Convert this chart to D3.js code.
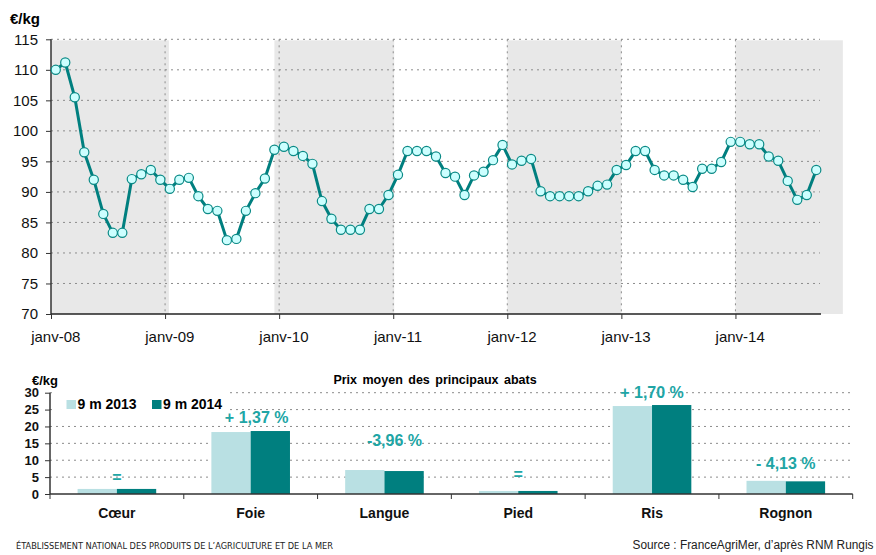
<!DOCTYPE html>
<html><head><meta charset="utf-8">
<script src="https://cdn.jsdelivr.net/npm/d3@7"></script>
<style>body{margin:0;background:#fff}svg{display:block;font-family:"Liberation Sans",Arial,sans-serif}</style>
</head><body>
<svg id="c" width="876" height="555"></svg>
<script>
// ---------- DATA ----------
const monthlyPrices = [110.0,111.2,105.5,96.5,92.0,86.4,83.3,83.3,92.1,92.9,93.6,92.0,
 90.5,92.0,92.3,89.3,87.2,86.9,82.1,82.3,86.9,89.8,92.2,96.9,
 97.4,96.7,95.9,94.6,88.5,85.6,83.8,83.8,83.8,87.2,87.2,89.5,
 92.8,96.7,96.7,96.7,95.8,93.1,92.5,89.5,92.7,93.3,95.2,97.7,
 94.5,95.1,95.4,90.1,89.3,89.3,89.3,89.3,90.1,91.0,91.2,93.6,
 94.4,96.7,96.7,93.6,92.7,92.7,92.0,90.8,93.8,93.8,94.9,98.2,
 98.2,97.8,97.8,95.8,95.1,91.8,88.7,89.5,93.6];
const yearLabels = ["janv-08","janv-09","janv-10","janv-11","janv-12","janv-13","janv-14"];
const shadedMonths = [[0,12.4],[23.5,36.1],[48,60],[72,83.3]];
const topTicks = [70,75,80,85,90,95,100,105,110,115];

const categories = ["Cœur","Foie","Langue","Pied","Ris","Rognon"];
const series2013 = [1.5,18.35,7.1,0.9,26.05,3.9];
const series2014 = [1.5,18.65,6.8,0.9,26.35,3.75];
const changeLabels = ["=","+ 1,37 %","-3,96 %","=","+ 1,70 %","- 4,13 %"];
const changeLabelAt = [5.0,22.8,15.8,5.9,30.0,9.1];
const seriesNames = ["9 m 2013","9 m 2014"];
const bottomTicks = [0,5,10,15,20,25,30];

// ---------- DRAW ----------
const svg = d3.select("#c");
const teal = "#007f7f", light = "#b9e0e3", gridC = "#8c8c8c", labC = "#20a5a5";

// Top chart
const x = d3.scaleLinear().domain([0, monthlyPrices.length]).range([51, 821]);
const y = d3.scaleLinear().domain([70,115]).range([314, 39.3]);
const gTop = svg.append("g");

gTop.selectAll("rect.band").data(shadedMonths).join("rect")
  .attr("x", d => x(d[0])).attr("width", d => x(d[1]) - x(d[0]))
  .attr("y", y(115) + 1).attr("height", y(70) - y(115) - 1)
  .attr("fill", "#e8e8e8");

gTop.selectAll("line.hg").data(topTicks.filter(t => t > 70)).join("line")
  .attr("x1", 51).attr("x2", 820).attr("y1", d => y(d)).attr("y2", d => y(d))
  .attr("stroke", gridC).attr("stroke-width", 1).attr("stroke-dasharray", "2,4");
gTop.selectAll("line.vg").data(yearLabels.slice(1)).join("line")
  .attr("x1", (d,i) => x((i+1)*12)).attr("x2", (d,i) => x((i+1)*12))
  .attr("y1", y(115)).attr("y2", y(70))
  .attr("stroke", gridC).attr("stroke-width", 1).attr("stroke-dasharray", "2,4");

// y axis
const yAx = gTop.append("g").attr("transform", "translate(51,0)")
  .call(d3.axisLeft(y).tickValues(topTicks).tickSize(5).tickPadding(8));
yAx.select(".domain").attr("stroke", "#333").attr("stroke-width", 1.5).attr("d", `M0,${y(115)}V${y(70)}`);
yAx.selectAll(".tick line").attr("stroke", "#333");
yAx.selectAll("text").attr("font-size", 15).attr("fill", "#111").attr("font-family", "Liberation Sans, Arial");

// x axis
const xAx = gTop.append("g").attr("transform", `translate(0,${y(70)})`)
  .call(d3.axisBottom(x).tickValues(yearLabels.map((d,i)=>i*12)).tickSize(5).tickFormat(() => ""));
xAx.select(".domain").attr("stroke", "#222").attr("stroke-width", 1.5).attr("d", `M51,0H821`);
xAx.selectAll(".tick line").attr("stroke", "#333");
gTop.selectAll("text.xl").data(yearLabels).join("text")
  .attr("x", (d,i) => x(i*12 + 0.5)).attr("y", 342)
  .attr("text-anchor", "middle").attr("font-size", 15).attr("fill", "#111").text(d => d);

gTop.append("text").attr("x", 10).attr("y", 24).attr("font-size", 15).attr("font-weight", "bold").text("€/kg");

const line = d3.line().x((d,i) => x(i+0.5)).y(d => y(d));
gTop.append("path").datum(monthlyPrices).attr("d", line)
  .attr("fill", "none").attr("stroke", teal).attr("stroke-width", 3).attr("stroke-linejoin", "round");
gTop.selectAll("circle").data(monthlyPrices).join("circle")
  .attr("cx", (d,i) => x(i+0.5)).attr("cy", d => y(d)).attr("r", 4.6)
  .attr("fill", "#ccffff").attr("stroke", "#0a8a86").attr("stroke-width", 1.2);

// Bottom chart
const bx = d3.scaleBand().domain(categories).range([50, 852.7]);
const by = d3.scaleLinear().domain([0,30]).range([494, 392.7]);
const bw = 39.3;
const bot = svg.append("g");

bot.selectAll("line.hg").data(bottomTicks.filter(t => t > 0)).join("line")
  .attr("x1", 50).attr("x2", 852.7).attr("y1", d => by(d)).attr("y2", d => by(d))
  .attr("stroke", gridC).attr("stroke-width", 1).attr("stroke-dasharray", "2,4");

// legend background
bot.append("rect").attr("x", 52).attr("y", 389).attr("width", 176).attr("height", 24).attr("fill", "#fff");

bot.selectAll("rect.b13").data(series2013).join("rect")
  .attr("x", (d,i) => bx(categories[i]) + bx.bandwidth()/2 - bw).attr("width", bw)
  .attr("y", d => by(d)).attr("height", d => by(0) - by(d)).attr("fill", light);
bot.selectAll("rect.b14").data(series2014).join("rect")
  .attr("x", (d,i) => bx(categories[i]) + bx.bandwidth()/2).attr("width", bw)
  .attr("y", d => by(d)).attr("height", d => by(0) - by(d)).attr("fill", teal);

const byAx = bot.append("g").attr("transform", "translate(50,0)")
  .call(d3.axisLeft(by).tickValues(bottomTicks).tickSize(5).tickPadding(6));
byAx.select(".domain").attr("stroke", "#333").attr("stroke-width", 1.5).attr("d", `M0,${by(30)}V${by(0)}`);
byAx.selectAll(".tick line").attr("stroke", "#333");
byAx.selectAll("text").attr("font-size", 13).attr("font-weight", "bold").attr("fill", "#111").attr("font-family", "Liberation Sans, Arial");

const edges = categories.map(c => bx(c)).concat([852.7]);
bot.append("line").attr("x1", 50).attr("x2", 852.7).attr("y1", by(0)).attr("y2", by(0)).attr("stroke", "#333").attr("stroke-width", 1.5);
bot.selectAll("line.bt").data(edges).join("line")
  .attr("x1", d => d).attr("x2", d => d).attr("y1", by(0)).attr("y2", by(0) + 5).attr("stroke", "#333");

bot.selectAll("text.cat").data(categories).join("text")
  .attr("x", d => bx(d) + bx.bandwidth()/2).attr("y", 518)
  .attr("text-anchor", "middle").attr("font-size", 14).attr("font-weight", "bold").attr("fill", "#111").text(d => d);

bot.selectAll("text.chg").data(changeLabels).join("text")
  .attr("x", (d,i) => bx(categories[i]) + bx.bandwidth()/2 + (i===1?6:(i===2?10:0)))
  .attr("y", (d,i) => by(changeLabelAt[i])).attr("dy", "0.36em")
  .attr("text-anchor", "middle").attr("font-size", 16).attr("font-weight", "bold").attr("fill", labC).text(d => d);

bot.append("text").attr("x", 32).attr("y", 385).attr("font-size", 13).attr("font-weight", "bold").text("€/kg");
bot.append("text").attr("x", 435).attr("y", 384).attr("text-anchor", "middle").attr("font-size", 12.5)
  .attr("font-weight", "bold").attr("word-spacing", 2).text("Prix moyen des principaux abats");

// legend
const lg = bot.selectAll("g.lg").data(seriesNames).join("g")
  .attr("transform", (d,i) => `translate(${66.5 + i*85.5},400)`);
lg.append("rect").attr("width", 9.5).attr("height", 9).attr("fill", (d,i) => i ? teal : light);
lg.append("text").attr("x", 11).attr("y", 9).attr("font-size", 14).attr("font-weight", "bold").text(d => d);

// footer
svg.append("text").attr("x", 16).attr("y", 549).attr("font-size", 9.5)
  .attr("font-family", "Liberation Sans Narrow, DejaVu Sans Condensed, sans-serif")
  .attr("textLength", 317).attr("lengthAdjust", "spacingAndGlyphs").attr("fill", "#222")
  .text("ÉTABLISSEMENT NATIONAL DES PRODUITS DE L’AGRICULTURE ET DE LA MER");
svg.append("text").attr("x", 632.5).attr("y", 549).attr("font-size", 12)
  .attr("textLength", 241).attr("lengthAdjust", "spacingAndGlyphs").attr("fill", "#222")
  .text("Source : FranceAgriMer, d’après RNM Rungis");
</script>
</body></html>
